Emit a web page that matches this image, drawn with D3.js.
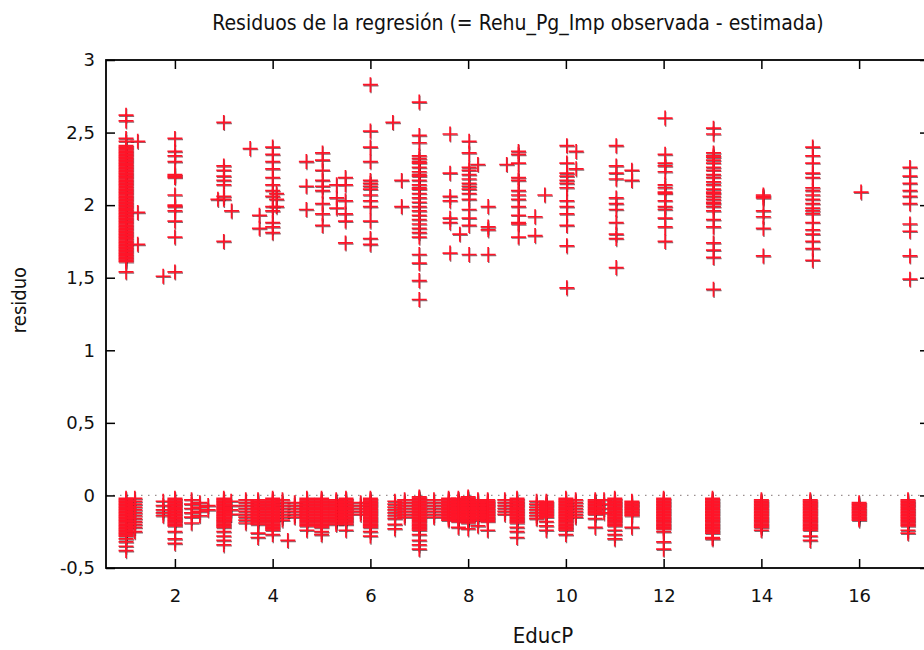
<!DOCTYPE html>
<html><head><meta charset="utf-8">
<script src="https://cdn.jsdelivr.net/npm/d3@7"></script>
<style>html,body{margin:0;padding:0;background:#fff;} svg{display:block;}</style>
</head><body><svg id="c" width="924" height="650"></svg>
<script>
const titleText = "Residuos de la regresión (= Rehu_Pg_Imp observada - estimada)";
const xLabel = "EducP";
const yLabel = "residuo";
const xTicks = [2,4,6,8,10,12,14,16];
const xTickLabels = ["2","4","6","8","10","12","14","16"];
const yTicks = [-0.5,0,0.5,1,1.5,2,2.5,3];
const yTickLabels = ["-0,5","0","0,5","1","1,5","2","2,5","3"];

// upper band: EducP position of each column and its residuals
const upperX = [1,1.24,1.76,2,2.88,3,3.16,3.54,3.73,4,4.08,4.69,5.02,5.31,5.49,6,6.46,6.64,7,7.63,7.83,8.02,8.2,8.41,8.79,9.03,9.37,9.57,10.02,10.21,11.03,11.35,12.03,13.02,14.04,15.05,16.04,17.04];
const upperY = [
 [2.62,2.58,2.46,2.44,2.41,2.40,2.39,2.38,2.37,2.36,2.35,2.34,2.33,2.32,2.31,2.30,2.29,2.28,2.27,2.26,2.25,2.24,2.23,2.22,2.21,2.20,2.19,2.18,2.17,2.16,2.15,2.14,2.13,2.12,2.11,2.10,2.09,2.08,2.07,2.06,2.05,2.04,2.03,2.02,2.01,2.00,1.99,1.98,1.97,1.96,1.95,1.94,1.93,1.92,1.91,1.90,1.89,1.88,1.87,1.86,1.85,1.84,1.83,1.82,1.81,1.80,1.79,1.78,1.77,1.76,1.75,1.74,1.73,1.72,1.71,1.70,1.69,1.68,1.67,1.66,1.65,1.64,1.63,1.62,1.61,1.54],
 [2.44,1.95,1.73],
 [1.51],
 [2.46,2.37,2.34,2.30,2.21,2.20,2.19,2.07,2.00,1.99,1.96,1.89,1.78,1.54],
 [2.04],
 [2.57,2.27,2.24,2.20,2.17,2.14,2.06,2.04,1.75],
 [1.96],
 [2.39],
 [1.93,1.84],
 [2.40,2.35,2.30,2.25,2.19,2.14,2.10,2.06,1.99,1.96,1.88,1.85,1.81],
 [2.08,2.04,1.99],
 [2.30,2.13,1.97],
 [2.36,2.31,2.24,2.17,2.13,2.10,2.01,1.94,1.86],
 [2.14,2.05,1.98],
 [2.19,2.14,2.03,1.94,1.89,1.74],
 [2.83,2.51,2.40,2.30,2.17,2.15,2.13,2.11,2.07,2.03,1.99,1.89,1.77,1.73],
 [2.57],
 [2.17,1.99],
 [2.71,2.48,2.43,2.34,2.32,2.30,2.29,2.26,2.23,2.21,2.20,2.17,2.14,2.12,2.11,2.08,2.05,2.02,1.99,1.96,1.93,1.90,1.87,1.84,1.81,1.78,1.66,1.60,1.48,1.35],
 [2.49,2.22,2.06,2.03,1.91,1.88,1.67],
 [1.80],
 [2.44,2.36,2.26,2.24,2.21,2.18,2.15,2.13,2.11,2.08,2.04,1.97,1.91,1.86,1.66],
 [2.28],
 [1.99,1.85,1.83,1.66],
 [2.28],
 [2.37,2.35,2.29,2.19,2.17,2.10,2.07,2.04,1.99,1.93,1.88,1.87,1.78],
 [1.92,1.79],
 [2.07],
 [2.41,2.29,2.22,2.20,2.17,2.15,2.12,2.03,1.99,1.94,1.86,1.72,1.43],
 [2.37,2.25],
 [2.41,2.27,2.22,2.18,2.05,2.01,1.97,1.88,1.80,1.77,1.57],
 [2.24,2.17],
 [2.60,2.35,2.29,2.27,2.23,2.14,2.12,2.09,2.08,2.03,1.99,1.97,1.91,1.85,1.75],
 [2.53,2.49,2.36,2.34,2.33,2.31,2.29,2.26,2.24,2.21,2.19,2.16,2.14,2.11,2.09,2.08,2.06,2.04,2.02,2.01,1.99,1.96,1.90,1.85,1.74,1.69,1.64,1.42],
 [2.07,2.06,2.05,1.96,1.92,1.84,1.65],
 [2.40,2.34,2.29,2.22,2.19,2.12,2.10,2.07,2.04,2.01,1.98,1.96,1.94,1.88,1.83,1.80,1.75,1.70,1.62],
 [2.09],
 [2.26,2.20,2.15,2.10,2.06,2.01,1.87,1.82,1.65,1.49]
];

// lower band: EducP position of each column and its residuals
const lowerX = [1,1.18,1.76,2,2.34,2.51,2.68,3,3.15,3.45,3.7,4,4.2,4.31,4.45,4.7,5,5.3,5.5,5.8,6,6.5,6.7,7,7.3,7.6,7.8,8,8.2,8.4,8.75,9,9.4,9.6,10,10.2,10.6,10.78,11,11.35,12,13,14,15,16,17];
const lowerY = [
 [-0.02,-0.03,-0.04,-0.05,-0.06,-0.07,-0.08,-0.09,-0.1,-0.11,-0.12,-0.13,-0.14,-0.15,-0.16,-0.17,-0.18,-0.19,-0.2,-0.21,-0.22,-0.23,-0.24,-0.25,-0.26,-0.27,-0.28,-0.3,-0.32,-0.35,-0.38],
 [-0.02,-0.04,-0.06,-0.08,-0.1,-0.12,-0.14,-0.16,-0.18,-0.2,-0.22,-0.25],
 [-0.04,-0.07,-0.1,-0.12,-0.14],
 [-0.02,-0.03,-0.04,-0.05,-0.06,-0.07,-0.08,-0.09,-0.1,-0.11,-0.12,-0.13,-0.14,-0.15,-0.16,-0.17,-0.18,-0.19,-0.2,-0.21,-0.25,-0.3,-0.33],
 [-0.03,-0.06,-0.09,-0.12,-0.15,-0.19],
 [-0.05,-0.08,-0.11,-0.14],
 [-0.07,-0.1],
 [-0.02,-0.03,-0.04,-0.05,-0.06,-0.07,-0.08,-0.09,-0.1,-0.11,-0.12,-0.13,-0.14,-0.15,-0.16,-0.17,-0.18,-0.19,-0.2,-0.21,-0.22,-0.25,-0.28,-0.31,-0.34],
 [-0.04,-0.07,-0.1,-0.13],
 [-0.03,-0.05,-0.07,-0.09,-0.11,-0.13,-0.15,-0.17,-0.19],
 [-0.03,-0.04,-0.05,-0.06,-0.07,-0.08,-0.09,-0.1,-0.11,-0.12,-0.13,-0.14,-0.15,-0.16,-0.17,-0.18,-0.19,-0.2,-0.26,-0.29],
 [-0.02,-0.03,-0.04,-0.05,-0.06,-0.07,-0.08,-0.09,-0.1,-0.11,-0.12,-0.13,-0.14,-0.15,-0.16,-0.17,-0.18,-0.19,-0.2,-0.21,-0.22,-0.23,-0.24,-0.27],
 [-0.03,-0.05,-0.07,-0.09,-0.11,-0.13,-0.15,-0.17],
 [-0.31],
 [-0.05,-0.07,-0.09,-0.11,-0.13,-0.15],
 [-0.02,-0.03,-0.04,-0.05,-0.06,-0.07,-0.08,-0.09,-0.1,-0.11,-0.12,-0.13,-0.14,-0.15,-0.16,-0.17,-0.18,-0.19,-0.2,-0.21,-0.24],
 [-0.02,-0.03,-0.04,-0.05,-0.06,-0.07,-0.08,-0.09,-0.1,-0.11,-0.12,-0.13,-0.14,-0.15,-0.16,-0.17,-0.18,-0.19,-0.2,-0.21,-0.22,-0.25,-0.27],
 [-0.03,-0.04,-0.05,-0.06,-0.07,-0.08,-0.09,-0.1,-0.11,-0.12,-0.13,-0.14,-0.15,-0.16,-0.17,-0.18,-0.19,-0.2],
 [-0.02,-0.03,-0.04,-0.05,-0.06,-0.07,-0.08,-0.09,-0.1,-0.11,-0.12,-0.13,-0.14,-0.15,-0.16,-0.17,-0.18,-0.19,-0.2,-0.24],
 [-0.05,-0.07,-0.09,-0.11,-0.13],
 [-0.02,-0.03,-0.04,-0.05,-0.06,-0.07,-0.08,-0.09,-0.1,-0.11,-0.12,-0.13,-0.14,-0.15,-0.16,-0.17,-0.18,-0.19,-0.2,-0.21,-0.22,-0.25,-0.28],
 [-0.04,-0.06,-0.08,-0.1,-0.12,-0.14,-0.16,-0.2,-0.23],
 [-0.03,-0.05,-0.07,-0.09,-0.11,-0.13,-0.15],
 [-0.01,-0.02,-0.03,-0.04,-0.05,-0.06,-0.07,-0.08,-0.09,-0.1,-0.11,-0.12,-0.13,-0.14,-0.15,-0.16,-0.17,-0.18,-0.19,-0.2,-0.21,-0.22,-0.23,-0.24,-0.27,-0.31,-0.34,-0.37],
 [-0.03,-0.05,-0.07,-0.09,-0.11,-0.13,-0.15],
 [-0.02,-0.03,-0.04,-0.05,-0.06,-0.07,-0.08,-0.09,-0.1,-0.11,-0.12,-0.13,-0.14,-0.15,-0.16,-0.17],
 [-0.02,-0.03,-0.04,-0.05,-0.06,-0.07,-0.08,-0.09,-0.1,-0.11,-0.12,-0.13,-0.14,-0.15,-0.16,-0.17,-0.18,-0.22],
 [-0.01,-0.02,-0.03,-0.04,-0.05,-0.06,-0.07,-0.08,-0.09,-0.1,-0.11,-0.12,-0.13,-0.14,-0.15,-0.16,-0.17,-0.18,-0.19,-0.23],
 [-0.03,-0.04,-0.05,-0.06,-0.07,-0.08,-0.09,-0.1,-0.11,-0.12,-0.13,-0.14,-0.15,-0.16,-0.17,-0.21],
 [-0.03,-0.04,-0.05,-0.06,-0.07,-0.08,-0.09,-0.1,-0.11,-0.12,-0.13,-0.14,-0.15,-0.16,-0.17,-0.18,-0.24],
 [-0.03,-0.05,-0.07,-0.09,-0.11,-0.13],
 [-0.02,-0.03,-0.04,-0.05,-0.06,-0.07,-0.08,-0.09,-0.1,-0.11,-0.12,-0.13,-0.14,-0.15,-0.16,-0.17,-0.18,-0.19,-0.22,-0.25,-0.29],
 [-0.04,-0.06,-0.08,-0.1,-0.12,-0.14,-0.16],
 [-0.04,-0.05,-0.06,-0.07,-0.08,-0.09,-0.1,-0.11,-0.12,-0.13,-0.14,-0.15,-0.18,-0.21,-0.24],
 [-0.02,-0.03,-0.04,-0.05,-0.06,-0.07,-0.08,-0.09,-0.1,-0.11,-0.12,-0.13,-0.14,-0.15,-0.16,-0.17,-0.18,-0.19,-0.2,-0.21,-0.22,-0.23,-0.24,-0.27],
 [-0.03,-0.05,-0.07,-0.09,-0.11,-0.13,-0.15],
 [-0.03,-0.04,-0.05,-0.06,-0.07,-0.08,-0.09,-0.1,-0.11,-0.12,-0.13,-0.16,-0.22],
 [-0.03,-0.06,-0.09,-0.12],
 [-0.02,-0.03,-0.04,-0.05,-0.06,-0.07,-0.08,-0.09,-0.1,-0.11,-0.12,-0.13,-0.14,-0.15,-0.16,-0.17,-0.18,-0.19,-0.2,-0.21,-0.24,-0.27,-0.3],
 [-0.04,-0.05,-0.06,-0.07,-0.08,-0.09,-0.1,-0.11,-0.12,-0.13,-0.14,-0.22],
 [-0.02,-0.03,-0.04,-0.05,-0.06,-0.07,-0.08,-0.09,-0.1,-0.11,-0.12,-0.13,-0.14,-0.15,-0.16,-0.17,-0.18,-0.19,-0.2,-0.21,-0.22,-0.23,-0.25,-0.32,-0.37],
 [-0.02,-0.03,-0.04,-0.05,-0.06,-0.07,-0.08,-0.09,-0.1,-0.11,-0.12,-0.13,-0.14,-0.15,-0.16,-0.17,-0.18,-0.19,-0.2,-0.21,-0.22,-0.23,-0.24,-0.25,-0.26,-0.29,-0.3],
 [-0.03,-0.04,-0.05,-0.06,-0.07,-0.08,-0.09,-0.1,-0.11,-0.12,-0.13,-0.14,-0.15,-0.16,-0.17,-0.18,-0.19,-0.2,-0.21,-0.22,-0.24],
 [-0.03,-0.04,-0.05,-0.06,-0.07,-0.08,-0.09,-0.1,-0.11,-0.12,-0.13,-0.14,-0.15,-0.16,-0.17,-0.18,-0.19,-0.2,-0.21,-0.22,-0.23,-0.24,-0.28,-0.31],
 [-0.05,-0.06,-0.07,-0.08,-0.09,-0.1,-0.11,-0.12,-0.13,-0.14,-0.15,-0.16,-0.17],
 [-0.03,-0.04,-0.05,-0.06,-0.07,-0.08,-0.09,-0.1,-0.11,-0.12,-0.13,-0.14,-0.15,-0.16,-0.17,-0.18,-0.19,-0.2,-0.21,-0.24,-0.26]
];

const points = [];
upperX.forEach((xv, i) => upperY[i].forEach(yv => points.push([xv, yv])));
lowerX.forEach((xv, i) => lowerY[i].forEach(yv => points.push([xv, yv])));

const svg = d3.select("#c");
svg.append("rect").attr("width", 924).attr("height", 650).attr("fill", "#fff");

const x = d3.scaleLinear().domain([0.59, 17.43]).range([106, 929]);
const y = d3.scaleLinear().domain([-0.5, 3]).range([568, 60]);
const font = "'DejaVu Sans', sans-serif";
const condFont = "'DejaVu Sans Condensed', 'Liberation Sans Narrow', 'DejaVu Sans', sans-serif";

// zero reference line (dotted)
svg.append("line")
  .attr("x1", x.range()[0]).attr("x2", x.range()[1])
  .attr("y1", y(0)).attr("y2", y(0))
  .attr("stroke", "#9a8f8f").attr("stroke-width", 1.3)
  .attr("stroke-dasharray", "1.5,5.5");

// points: dark shadow layer then red crosses
const cross = "M-7.5,0H7.5M0,-7.5V7.5";
const pts = svg.append("g");
pts.selectAll("path.sh").data(points).join("path")
  .attr("class", "sh")
  .attr("d", cross)
  .attr("transform", d => `translate(${x(d[0]) + 0.6},${y(d[1]) + 1.1})`)
  .attr("fill", "none").attr("stroke", "#3c0c16").attr("stroke-width", 1.4).attr("opacity", 0.6);
pts.selectAll("path.pt").data(points).join("path")
  .attr("class", "pt")
  .attr("d", cross)
  .attr("transform", d => `translate(${x(d[0])},${y(d[1])})`)
  .attr("fill", "none").attr("stroke", "#ff1428").attr("stroke-width", 1.7);

// axes with inward ticks
function styleAxis(g) {
  g.select(".domain").remove();
  g.selectAll(".tick line").attr("stroke", "#000").attr("stroke-width", 1.5);
  g.selectAll(".tick text").attr("fill", "#111").style("font-family", font).style("font-size", "18px");
}
svg.append("g").attr("transform", `translate(0,${y.range()[0]})`)
  .call(d3.axisBottom(x).tickValues(xTicks).tickFormat((d, i) => xTickLabels[i]).tickSizeInner(-9).tickSizeOuter(0).tickPadding(21))
  .call(styleAxis);
svg.append("g").attr("transform", `translate(0,${y.range()[1]})`)
  .call(d3.axisTop(x).tickValues(xTicks).tickFormat("").tickSizeInner(-9).tickSizeOuter(0))
  .call(styleAxis);
svg.append("g").attr("transform", `translate(${x.range()[0]},0)`)
  .call(d3.axisLeft(y).tickValues(yTicks).tickFormat((d, i) => yTickLabels[i]).tickSizeInner(-9).tickSizeOuter(0).tickPadding(11))
  .call(styleAxis);
svg.append("g").attr("transform", `translate(${x.range()[1]},0)`)
  .call(d3.axisRight(y).tickValues(yTicks).tickFormat("").tickSizeInner(-9).tickSizeOuter(0))
  .call(styleAxis);

// frame
svg.append("rect")
  .attr("x", x.range()[0]).attr("y", y.range()[1])
  .attr("width", x.range()[1] - x.range()[0]).attr("height", y.range()[0] - y.range()[1])
  .attr("fill", "none").attr("stroke", "#000").attr("stroke-width", 1.8);

// texts
svg.append("text").attr("x", 518).attr("y", 30).attr("text-anchor", "middle")
  .style("font-family", condFont).style("font-size", "21px").attr("fill", "#111").text(titleText);
svg.append("text").attr("x", 543).attr("y", 643).attr("text-anchor", "middle")
  .style("font-family", condFont).style("font-size", "22px").attr("fill", "#111").text(xLabel);
svg.append("text").attr("transform", "translate(26,300) rotate(-90)").attr("text-anchor", "middle")
  .style("font-family", condFont).style("font-size", "20px").attr("fill", "#111").text(yLabel);
</script></body></html>
